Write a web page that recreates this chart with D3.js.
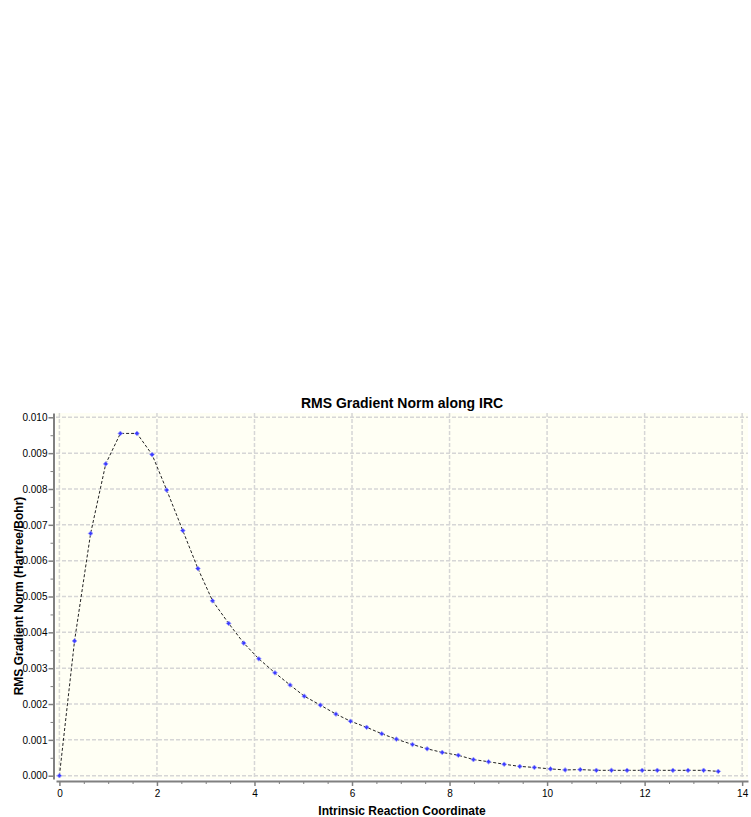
<!DOCTYPE html>
<html>
<head>
<meta charset="utf-8">
<script src="https://cdn.jsdelivr.net/npm/d3@7"></script>
<style>
  body { margin: 0; background: #fff; }
  #graf { width: 751px; height: 817px; }
  text { font-family: "Liberation Sans", Arial, Helvetica, sans-serif; }
  .eje path, .eje line { stroke: #808080; }
  .eje path { stroke-width: 2px; }
  .eje text { font-size: 10px; fill: #000; }
  .rejilla line { stroke: #d6d6d6; stroke-width: 1.5px; stroke-dasharray: 4,2; }
</style>
</head>
<body>
<div id="graf"></div>
<script>
// I. Data
irc = [0.00, 0.31, 0.64, 0.95, 1.25, 1.59, 1.90, 2.20, 2.53, 2.84,
       3.14, 3.47, 3.78, 4.09, 4.42, 4.73, 5.02, 5.35, 5.67, 5.97,
       6.30, 6.61, 6.91, 7.24, 7.54, 7.85, 8.18, 8.49, 8.80, 9.12,
       9.44, 9.74, 10.07, 10.37, 10.68, 11.01, 11.32, 11.64, 11.95, 12.26,
       12.58, 12.89, 13.21, 13.51]
gradNorm = [0.00000, 0.00376, 0.00676, 0.00870, 0.00955, 0.00955, 0.00896, 0.00797, 0.00684, 0.00578,
            0.00488, 0.00425, 0.00370, 0.00326, 0.00287, 0.00253, 0.00222, 0.00197, 0.00172, 0.00152,
            0.00135, 0.00117, 0.00102, 0.00087, 0.00075, 0.00065, 0.00057, 0.00045, 0.00039, 0.00032,
            0.00026, 0.00023, 0.00019, 0.00016, 0.00017, 0.00015, 0.00015, 0.00015, 0.00015, 0.00015,
            0.00015, 0.00015, 0.00015, 0.00012]
xTicks = [0, 2, 4, 6, 8, 10, 12, 14]
yTicks = [0, 0.001, 0.002, 0.003, 0.004, 0.005, 0.006, 0.007, 0.008, 0.009, 0.010]

titleText = 'RMS Gradient Norm along IRC'
xLabel = 'Intrinsic Reaction Coordinate'
yLabel = 'RMS Gradient Norm (Hartree/Bohr)'

data = irc.map((d, i) => ({ x: d, y: gradNorm[i] }))

// II. Config
ancho_total = 751
alto_total = 817
plot = { left: 56, right: 748, top: 413, bottom: 779 }

svg = d3.select('#graf').append('svg')
        .attr('width', ancho_total)
        .attr('height', alto_total)

x = d3.scaleLinear()
      .domain([-0.07, 14.12])
      .range([plot.left, plot.right])

y = d3.scaleLinear()
      .domain([-0.000092, 0.01012])
      .range([plot.bottom, plot.top])

// III. Plot background + grid
svg.append('rect')
   .attr('x', plot.left)
   .attr('y', plot.top)
   .attr('width', plot.right - plot.left)
   .attr('height', plot.bottom - plot.top)
   .attr('fill', '#fffff4')

rejilla = svg.append('g').attr('class', 'rejilla')
rejilla.selectAll('.gx')
       .data(xTicks)
       .enter().append('line')
         .attr('x1', d => x(d)).attr('x2', d => x(d))
         .attr('y1', plot.top).attr('y2', plot.bottom)
rejilla.selectAll('.gy')
       .data(yTicks)
       .enter().append('line')
         .attr('x1', plot.left).attr('x2', plot.right)
         .attr('y1', d => y(d)).attr('y2', d => y(d))

// IV. Axes (minor ticks first, then majors with labels)
xMinor = d3.range(0, 14.01, 0.5).filter(d => d % 2 !== 0)
yMinor = d3.range(0.0005, 0.0101, 0.001)

bottomY = plot.bottom + 2
leftX = plot.left - 2.5

svg.append('g')
   .attr('class', 'eje')
   .attr('transform', `translate(0, ${bottomY})`)
   .call(d3.axisBottom(x).tickValues(xMinor).tickSize(3).tickFormat(''))
   .select('.domain').remove()
svg.append('g')
   .attr('class', 'eje')
   .attr('transform', `translate(${leftX}, 0)`)
   .call(d3.axisLeft(y).tickValues(yMinor).tickSize(3).tickFormat(''))
   .select('.domain').remove()

xAxisGroup = svg.append('g')
   .attr('class', 'eje')
   .attr('transform', `translate(0, ${bottomY})`)
   .call(d3.axisBottom(x).tickValues(xTicks).tickSize(5).tickSizeOuter(0).tickPadding(4).tickFormat(d3.format('d')))
xAxisGroup.selectAll('line').attr('stroke-width', 1.5)

yAxisGroup = svg.append('g')
   .attr('class', 'eje')
   .attr('transform', `translate(${leftX}, 0)`)
   .call(d3.axisLeft(y).tickValues(yTicks).tickSize(5).tickSizeOuter(0).tickPadding(1).tickFormat(d3.format('.3f')))
yAxisGroup.selectAll('line').attr('stroke-width', 1.5)

// V. Series
linea = d3.line()
          .x(d => x(d.x))
          .y(d => y(d.y))

svg.append('path')
   .datum(data)
   .attr('d', linea)
   .attr('fill', 'none')
   .attr('stroke', '#222')
   .attr('stroke-width', 1)
   .attr('stroke-dasharray', '3,2')

simbolo = d3.symbol().type(d3.symbolSquare).size(11)
svg.selectAll('.punto')
   .data(data)
   .enter().append('path')
     .attr('class', 'punto')
     .attr('d', simbolo)
     .attr('transform', d => `translate(${x(d.x)}, ${y(d.y)}) rotate(45)`)
     .attr('fill', '#3b3bff')
     .attr('stroke', '#9f9fff')
     .attr('stroke-width', 0.8)

// VI. Titles
svg.append('text')
   .attr('x', (plot.left + plot.right) / 2)
   .attr('y', 408)
   .attr('text-anchor', 'middle')
   .style('font-size', '14px')
   .style('font-weight', 'bold')
   .text(titleText)

svg.append('text')
   .attr('x', (plot.left + plot.right) / 2)
   .attr('y', 815)
   .attr('text-anchor', 'middle')
   .style('font-size', '12px')
   .style('font-weight', 'bold')
   .text(xLabel)

svg.append('text')
   .attr('transform', `translate(23, ${(plot.top + plot.bottom) / 2}) rotate(-90)`)
   .attr('text-anchor', 'middle')
   .style('font-size', '12px')
   .style('font-weight', 'bold')
   .text(yLabel)
</script>
</body>
</html>
